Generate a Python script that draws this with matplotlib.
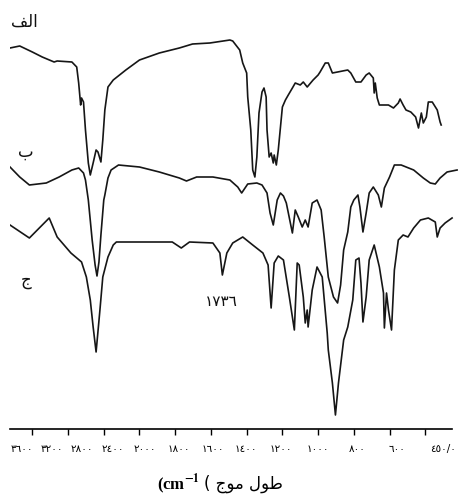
import matplotlib
matplotlib.use('agg')
import matplotlib.pyplot as plt
import numpy as np

# FT-IR spectra, wavenumber (cm-1) vs transmittance (arbitrary units, curves stacked)
wn_a = [3850, 3741, 3600, 3489, 3356, 3322, 3157, 3103, 3081, 3059, 3049, 3027, 3005, 2973,
        2951, 2919, 2886, 2865, 2832, 2811, 2788, 2753, 2694, 2553, 2400, 2178, 1977, 1903,
        1806, 1694, 1678, 1639, 1622, 1600, 1594, 1577, 1566, 1554, 1543, 1531, 1514, 1503,
        1491, 1486, 1474, 1463, 1451, 1446, 1434, 1423, 1400, 1383, 1367, 1344, 1328, 1300,
        1283, 1261, 1228, 1200, 1189, 1160, 1143, 1120, 1091, 1063, 1034, 1017, 989, 960,
        931, 914, 891, 886, 880, 869, 857, 806, 778, 751, 741, 724, 708, 681, 654, 638, 622,
        611, 594, 583, 561, 533, 517, 511]
t_a = [381, 383, 377, 372, 367, 368, 367, 362, 346, 324, 331, 327, 299, 266, 254, 266, 279,
       277, 267, 289, 319, 342, 349, 359, 369, 376, 381, 385, 386, 389, 388, 379, 366, 356,
       332, 299, 259, 252, 272, 316, 337, 341, 332, 299, 272, 276, 266, 274, 264, 279, 322,
       329, 334, 341, 346, 344, 347, 342, 349, 354, 357, 366, 366, 356, 357, 358, 359, 356,
       347, 347, 354, 356, 351, 336, 346, 331, 324, 324, 321, 326, 330, 324, 319, 317, 312,
       301, 316, 306, 312, 327, 327, 319, 307, 304]

wn_b = [3850, 3741, 3633, 3444, 3300, 3157, 3081, 3027, 3005, 2973, 2930, 2897, 2876, 2854,
        2832, 2800, 2788, 2753, 2718, 2635, 2400, 2178, 1977, 1937, 1880, 1789, 1694, 1650,
        1628, 1594, 1543, 1514, 1486, 1469, 1451, 1429, 1411, 1394, 1378, 1344, 1328, 1311,
        1289, 1272, 1256, 1233, 1206, 1183, 1166, 1143, 1114, 1091, 1074, 1057, 1034, 1017,
        1000, 977, 966, 949, 931, 914, 891, 863, 846, 829, 800, 773, 735, 665, 611, 572, 544,
        517, 478, 422]
t_b = [262, 252, 244, 246, 252, 259, 261, 256, 249, 229, 189, 164, 153, 167, 194, 229, 234,
       251, 259, 264, 262, 257, 251, 248, 252, 252, 249, 242, 236, 245, 246, 244, 236, 216,
       204, 229, 236, 233, 226, 196, 219, 212, 202, 209, 202, 226, 229, 219, 192, 152, 132,
       126, 144, 179, 197, 222, 229, 234, 222, 197, 216, 236, 242, 234, 222, 241, 252, 264,
       264, 259, 251, 246, 245, 251, 257, 259]

wn_c = [3850, 3633, 3411, 3322, 3168, 3049, 2995, 2951, 2919, 2886, 2843, 2811, 2753, 2694,
        2659, 2400, 2033, 1966, 1920, 1789, 1750, 1736, 1711, 1678, 1622, 1566, 1509, 1480,
        1463, 1446, 1423, 1394, 1361, 1333, 1317, 1306, 1283, 1272, 1261, 1256, 1233, 1206,
        1177, 1149, 1143, 1120, 1103, 1086, 1057, 1034, 1006, 989, 971, 960, 949, 931, 914,
        886, 857, 834, 829, 817, 806, 789, 773, 751, 724, 697, 665, 627, 583, 544, 533, 517,
        489, 450]
t_c = [204, 191, 211, 192, 176, 167, 152, 129, 102, 77, 119, 152, 172, 184, 187, 187, 187,
       181, 187, 186, 176, 154, 176, 186, 192, 184, 176, 164, 121, 166, 173, 169, 132, 99,
       166, 164, 132, 106, 119, 102, 139, 162, 152, 96, 79, 46, 14, 46, 89, 102, 129, 169,
       171, 146, 107, 132, 169, 184, 162, 136, 101, 136, 119, 99, 159, 189, 194, 192, 201,
       209, 211, 207, 192, 201, 206, 211]

curve_names = ['\uFED2\uFEDF\uFE8D', '\uFE8F', '\uFE9D']   # الف ، ب ، ج
peak_label = '١٧٣٦'
peak_wn = 1736

tick_wn = [3600, 3200, 2800, 2400, 2000, 1800, 1600, 1400, 1200, 1000, 800, 600]
tick_labels = ['٣٦٠٠', '٣٢٠٠', '٢٨٠٠', '٢٤٠٠', '٢٠٠٠', '١٨٠٠', '١٦٠٠', '١٤٠٠',
               '١٢٠٠', '١٠٠٠', '٨٠٠', '٦٠٠', '٤٥٠/٠']

xlabel_ar = '( \uFE9D\uFEEE\uFEE3 \uFEDD\uFEEE\uFEC3'   # طول موج


# instrument chart: 400 cm-1 per division above 2000, 200 cm-1 per division below
def fwd(w):
    w = np.asarray(w, dtype=float)
    return np.where(w >= 2000, (w - 3600) / 400.0, (w - 2000) / 200.0 - 4)


def inv(u):
    u = np.asarray(u, dtype=float)
    return np.where(u >= -4, 3600 + 400.0 * u, 2000 + 200.0 * (u + 4))


plt.rcParams['mathtext.fontset'] = 'stix'
line_color = '#161616'

fig = plt.figure(figsize=(4.72, 4.98), dpi=100)
ax = fig.add_axes([10 / 472, 69 / 498, 451 / 472, 429 / 498])
ax.set_xscale('function', functions=(fwd, inv))

for wn, t in [(wn_a, t_a), (wn_b, t_b), (wn_c, t_c)]:
    ax.plot(wn, t, color=line_color, lw=1.2, solid_joinstyle='round')

ax.set_xlim(3850, 400)
ax.set_ylim(0, 429)

for name, (x, y) in zip(curve_names, [(3690, 407), (3676, 277), (3665, 149)]):
    ax.text(x, y, name, family='DejaVu Sans', fontsize=12, ha='center', va='center',
            color='#111111')
ax.text(1739, 127, peak_label, family='DejaVu Sans', fontsize=11, ha='center',
        va='center', color='#111111')

for side in ['left', 'top', 'right']:
    ax.spines[side].set_visible(False)
ax.spines['bottom'].set_bounds(450, 3850)
ax.spines['bottom'].set_linewidth(1.2)
ax.set_yticks([])

# tick marks on the divisions, labels typed a bit to the left of them
ax.xaxis.remove_overlapping_locs = False
ax.set_xticks(tick_wn, [''] * len(tick_wn))
ax.tick_params(axis='x', which='major', length=4.5, width=1.0, direction='out')
label_pos = [-0.3, 0.55, 1.4, 2.25, 3.15, 4.1, 5.05, 5.99, 6.95, 7.99, 9.1, 10.2, 11.5]
ax.set_xticks(inv(-np.array(label_pos)), tick_labels, minor=True)
ax.tick_params(axis='x', which='minor', length=0, pad=11, labelsize=7.5)
for lbl in ax.get_xticklabels(minor=True):
    lbl.set_family('DejaVu Sans')

fig.text(200 / 472, 1 - 484 / 498, r'(cm$^{\mathbf{-1}}$', family='Liberation Serif',
         fontweight='bold', fontsize=12, ha='right', va='center')
fig.text(204 / 472, 1 - 484 / 498, xlabel_ar, family='DejaVu Sans', fontsize=12,
         ha='left', va='center')

fig.savefig('out.png', dpi=100)
